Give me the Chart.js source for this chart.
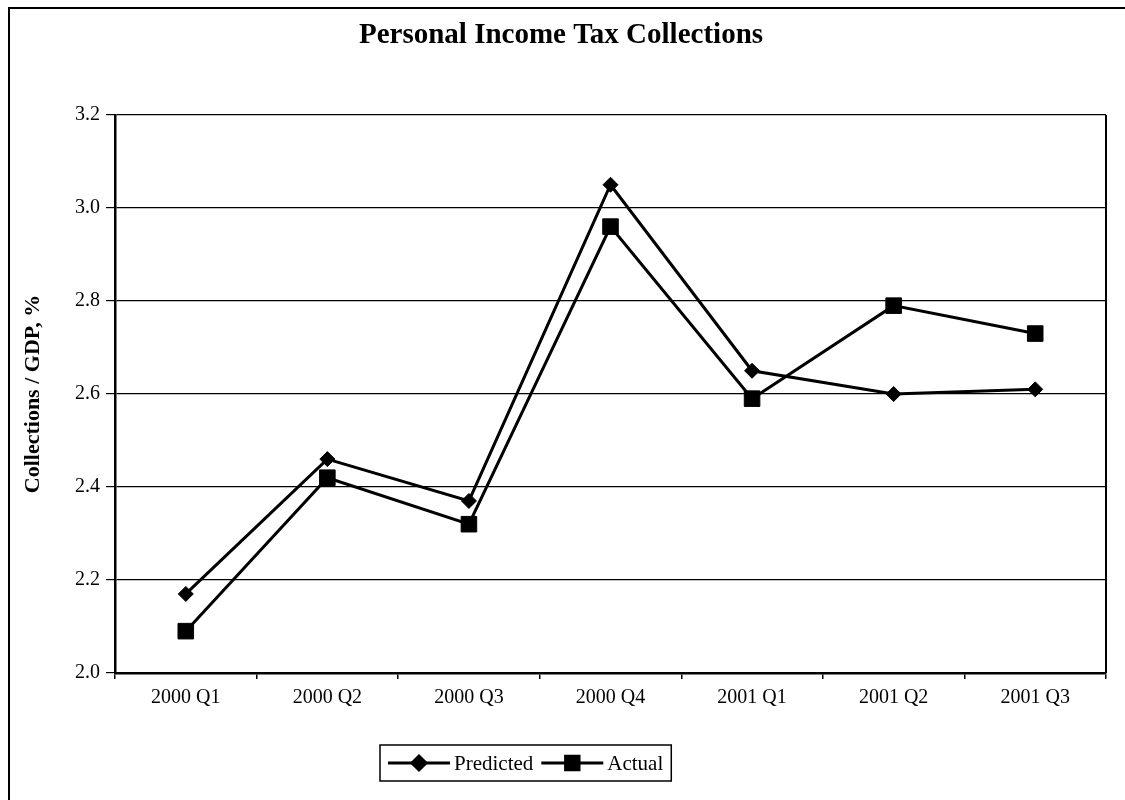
<!DOCTYPE html>
<html>
<head>
<meta charset="utf-8">
<script src="https://cdn.jsdelivr.net/npm/chart.js@4.4.0/dist/chart.umd.min.js"></script>
<style>
  html, body { margin: 0; padding: 0; background: #fff; }
  #wrap { width: 1125px; height: 800px; }
</style>
</head>
<body>
<div id="wrap"><canvas id="chart" width="1125" height="800"></canvas></div>
<script>
// Quarterly personal income tax collections as a share of GDP
const quarters = ['2000 Q1', '2000 Q2', '2000 Q3', '2000 Q4', '2001 Q1', '2001 Q2', '2001 Q3'];
const predicted = [2.17, 2.46, 2.37, 3.05, 2.65, 2.60, 2.61];
const actual = [2.09, 2.42, 2.32, 2.96, 2.59, 2.79, 2.73];
const yMin = 2.0;
const yMax = 3.2;
const yStep = 0.2;

const SERIF = "'Liberation Serif', 'Times New Roman', serif";

// White page with the outer frame lines at the top and left
const framePlugin = {
  id: 'frame',
  beforeDraw(chart) {
    const ctx = chart.ctx;
    ctx.save();
    ctx.fillStyle = '#fff';
    ctx.fillRect(0, 0, chart.width, chart.height);
    ctx.strokeStyle = '#000';
    ctx.lineWidth = 2;
    ctx.beginPath();
    ctx.moveTo(9, chart.height);
    ctx.lineTo(9, 8);
    ctx.lineTo(chart.width, 8);
    ctx.stroke();
    ctx.restore();
  }
};

// Right-hand edge of the plot area
const plotEdgePlugin = {
  id: 'plotEdge',
  beforeDatasetsDraw(chart) {
    const { ctx, chartArea: a } = chart;
    ctx.save();
    ctx.strokeStyle = '#000';
    ctx.lineWidth = 2;
    ctx.beginPath();
    ctx.moveTo(a.right, a.top);
    ctx.lineTo(a.right, a.bottom);
    ctx.stroke();
    ctx.restore();
  }
};

// Boxed legend below the axis: line segment with marker, then label
const boxedLegendPlugin = {
  id: 'boxedLegend',
  afterDraw(chart, args, opts) {
    const ctx = chart.ctx;
    const sets = chart.data.datasets;
    ctx.save();
    ctx.font = opts.fontSize + 'px ' + SERIF;
    const lineLen = opts.lineLen, gap = opts.gap, pad = opts.pad, itemGap = opts.itemGap;
    const widths = sets.map(d => ctx.measureText(d.label).width);
    let total = pad * 2 + itemGap * (sets.length - 1);
    widths.forEach(w => { total += lineLen + gap + w; });
    const left = Math.round(opts.centerX - total / 2);
    const top = opts.top, h = opts.height;
    const cy = top + h / 2;
    ctx.strokeStyle = '#000';
    ctx.lineWidth = 1.5;
    ctx.strokeRect(left, top, total, h);
    let x = left + pad;
    sets.forEach((d, i) => {
      ctx.strokeStyle = d.borderColor;
      ctx.lineWidth = d.borderWidth;
      ctx.beginPath();
      ctx.moveTo(x, cy);
      ctx.lineTo(x + lineLen, cy);
      ctx.stroke();
      ctx.fillStyle = d.pointBackgroundColor;
      ctx.strokeStyle = d.pointBorderColor;
      Chart.helpers.drawPoint(ctx, {
        pointStyle: d.pointStyle,
        radius: d.legendRadius,
        borderWidth: 1,
        rotation: 0
      }, x + lineLen / 2, cy);
      ctx.fillStyle = '#000';
      ctx.textBaseline = 'middle';
      ctx.textAlign = 'left';
      ctx.fillText(d.label, x + lineLen + gap, cy + 1);
      x += lineLen + gap + widths[i] + itemGap;
    });
    ctx.restore();
  }
};

new Chart(document.getElementById('chart'), {
  type: 'line',
  data: {
    labels: quarters,
    datasets: [
      {
        label: 'Predicted',
        data: predicted,
        borderColor: '#000',
        borderWidth: 3,
        pointStyle: 'rectRot',
        pointRadius: 7.5,
        legendRadius: 7,
        pointBackgroundColor: '#000',
        pointBorderColor: '#000',
        pointBorderWidth: 1,
        tension: 0,
        fill: false
      },
      {
        label: 'Actual',
        data: actual,
        borderColor: '#000',
        borderWidth: 3,
        pointStyle: 'rect',
        pointRadius: 11,
        legendRadius: 9.5,
        pointBackgroundColor: '#000',
        pointBorderColor: '#000',
        pointBorderWidth: 1,
        tension: 0,
        fill: false
      }
    ]
  },
  options: {
    responsive: false,
    devicePixelRatio: 1,
    animation: false,
    layout: { padding: { left: 16, right: 19, top: 0, bottom: 0 } },
    plugins: {
      legend: { display: false },
      tooltip: { enabled: false },
      title: {
        display: true,
        text: 'Personal Income Tax Collections',
        color: '#000',
        font: { family: SERIF, size: 29, weight: 'bold' },
        padding: { top: 18, bottom: 62.2 }
      },
      boxedLegend: {
        centerX: 526,
        top: 745,
        height: 36,
        fontSize: 21,
        lineLen: 62,
        gap: 4,
        pad: 8,
        itemGap: 8
      }
    },
    scales: {
      x: {
        offset: true,
        afterFit(scale) { scale.height = 127; },
        grid: {
          offset: true,
          drawOnChartArea: false,
          drawTicks: true,
          tickLength: 6,
          color: '#000',
          lineWidth: 1.5
        },
        border: { display: true, color: '#000', width: 2.5 },
        ticks: {
          color: '#000',
          padding: 7,
          maxRotation: 0,
          font: { family: SERIF, size: 20 }
        }
      },
      y: {
        min: yMin,
        max: yMax,
        afterFit(scale) { scale.width = 99; },
        grid: {
          color: '#000',
          lineWidth: 1.2,
          drawTicks: true,
          tickLength: 9,
          tickColor: '#000'
        },
        border: { display: true, color: '#000', width: 2.5 },
        ticks: {
          stepSize: yStep,
          color: '#000',
          padding: 6,
          font: { family: SERIF, size: 20 },
          callback: v => Number(v).toFixed(1)
        },
        title: {
          display: true,
          text: 'Collections / GDP, %',
          color: '#000',
          font: { family: SERIF, size: 22, weight: 'bold' },
          padding: { top: 4, bottom: 0 }
        }
      }
    }
  },
  plugins: [framePlugin, plotEdgePlugin, boxedLegendPlugin]
});
</script>
</body>
</html>
